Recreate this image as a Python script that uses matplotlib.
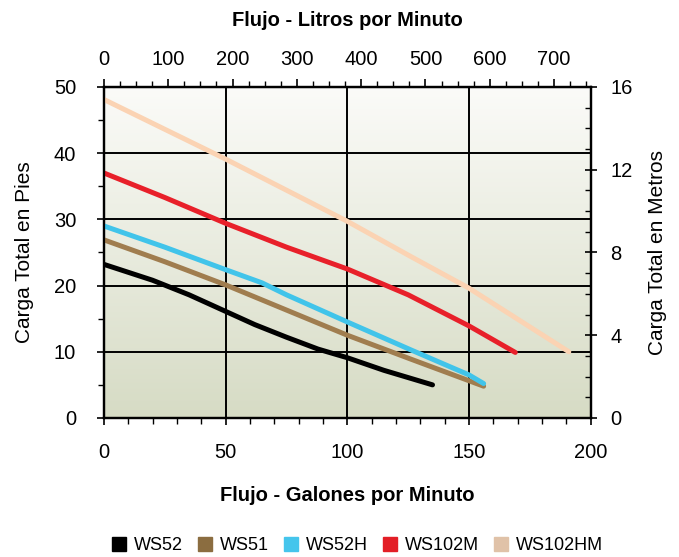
import numpy as np
import matplotlib
matplotlib.use("Agg")
import matplotlib.pyplot as plt
from matplotlib.ticker import MultipleLocator
from matplotlib.lines import Line2D

plt.rcParams['font.family'] = ['Liberation Sans', 'DejaVu Sans']

# curve data: flow (gal/min) vs total head (ft)
ws52_x = [0, 20, 35, 50, 62, 75, 88, 100, 115, 135]
ws52_y = [23.2, 20.8, 18.6, 16.1, 14.1, 12.2, 10.4, 9.1, 7.2, 5.0]

ws51_x = [0, 25, 50, 75, 100, 126, 156]
ws51_y = [26.9, 23.6, 20.1, 16.3, 12.5, 8.9, 4.8]

ws52h_x = [0, 25, 50, 65, 75, 100, 126, 150, 156]
ws52h_y = [29.0, 25.8, 22.4, 20.4, 18.6, 14.5, 10.3, 6.5, 5.2]

ws102m_x = [0, 25, 50, 75, 100, 125, 150, 169]
ws102m_y = [37.0, 33.3, 29.4, 25.8, 22.5, 18.6, 13.9, 9.9]

ws102hm_x = [0, 50, 100, 126, 150, 191]
ws102hm_y = [48.1, 39.1, 29.7, 24.4, 19.6, 10.0]

names = ['WS52', 'WS51', 'WS52H', 'WS102M', 'WS102HM']
colors = ['#000000', '#a07d4f', '#41c4ea', '#e8202a', '#fbd3b3']
legend_colors = ['#000000', '#8b6d40', '#45c5ec', '#e31e26', '#e0c2a8']

fig = plt.figure(figsize=(6.79, 5.57), dpi=100)
ax = fig.add_axes([0.153, 0.2496, 0.717, 0.5944])

# gradient background, light at top, olive-grey at bottom
grad = np.linspace(0, 1, 256).reshape(-1, 1)
c_top = np.array([0.985, 0.985, 0.975])
c_bot = np.array([0.84, 0.86, 0.77])
img = c_top[None, None, :] * (1 - grad[:, :, None]) + c_bot[None, None, :] * grad[:, :, None]
ax.imshow(img, extent=[0, 200, 0, 50], origin='upper', aspect='auto', zorder=0)
ax.set_xlim(0, 200)
ax.set_ylim(0, 50)

for gx in [50, 100, 150]:
    ax.axvline(gx, color='black', lw=1.4, zorder=1)
for gy in [10, 20, 30, 40]:
    ax.axhline(gy, color='black', lw=1.4, zorder=1)

data = [(ws52_x, ws52_y), (ws51_x, ws51_y), (ws52h_x, ws52h_y),
        (ws102m_x, ws102m_y), (ws102hm_x, ws102hm_y)]
for (x, y), c in zip(data, colors):
    ax.plot(x, y, color=c, lw=3.6, solid_capstyle='round', solid_joinstyle='round', zorder=3)

for s in ax.spines.values():
    s.set_linewidth(1.6)

ax.xaxis.set_major_locator(MultipleLocator(50))
ax.xaxis.set_minor_locator(MultipleLocator(10))
ax.yaxis.set_major_locator(MultipleLocator(10))
ax.yaxis.set_minor_locator(MultipleLocator(5))
ax.tick_params(axis='both', which='major', labelsize=14.5, length=5, width=1.2)
ax.tick_params(axis='both', which='minor', length=4, width=1.0)
ax.tick_params(axis='x', pad=13)
ax.tick_params(axis='y', pad=15)

ax.set_xlabel('Flujo - Galones por Minuto', fontsize=14.5, fontweight='bold', labelpad=17)
ax.set_ylabel('Carga Total en Pies', fontsize=15, labelpad=14)

# right axis in meters
ax2 = ax.twinx()
ax2.set_ylim(0, 16)
ax2.yaxis.set_major_locator(MultipleLocator(4))
ax2.yaxis.set_minor_locator(MultipleLocator(1))
ax2.tick_params(axis='y', which='major', labelsize=14.5, length=8, width=1.2, direction='inout', pad=10)
ax2.tick_params(axis='y', which='minor', length=4, width=1.0, direction='in')
ax2.set_ylabel('Carga Total en Metros', fontsize=15, labelpad=11)
for s in ax2.spines.values():
    s.set_linewidth(1.6)

# top axis in liters
top = ax.secondary_xaxis('top', functions=(lambda g: g * 3.785, lambda l: l / 3.785))
top.xaxis.set_major_locator(MultipleLocator(100))
top.xaxis.set_minor_locator(MultipleLocator(25))
top.tick_params(which='major', labelsize=14.5, length=6, width=1.2, pad=7)
top.tick_params(which='minor', length=4, width=1.0)
top.set_xlabel('Flujo - Litros por Minuto', fontsize=14.5, fontweight='bold', labelpad=17)

handles = [Line2D([], [], marker='s', color=c, linestyle='none', markersize=10.5) for c in legend_colors]
fig.legend(handles, names, loc='center', bbox_to_anchor=(0.525, 0.02), ncol=5,
           frameon=False, fontsize=13, handletextpad=0.3, columnspacing=0.75,
           handlelength=1.0)

fig.savefig('out.png', dpi=100)
